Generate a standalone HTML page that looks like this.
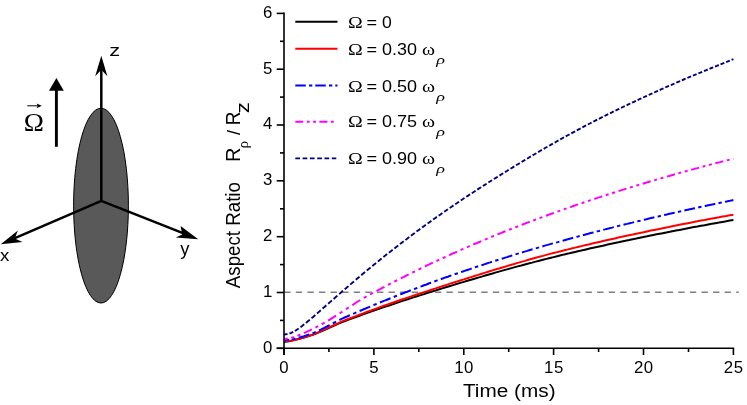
<!DOCTYPE html>
<html><head><meta charset="utf-8"><style>
html,body{margin:0;padding:0;background:#fff;}
svg{display:block;will-change:transform}
text{fill:#000}
.ax line{stroke:#000;stroke-width:1.6}
</style></head><body>
<svg width="747" height="405" viewBox="0 0 747 405">
<rect width="747" height="405" fill="#fff"/>
<!-- left schematic -->
<ellipse cx="101.0" cy="205.6" rx="27.4" ry="97.4" fill="#595959" stroke="#000" stroke-width="1"/>
<g stroke="#000" stroke-width="2.5" fill="none">
<line x1="101.3" y1="200.8" x2="101.3" y2="70"/>
<line x1="101.3" y1="200.8" x2="12" y2="239.4"/>
<line x1="101.3" y1="200.8" x2="188" y2="235.2"/>
</g>
<path d="M101.3,55.7 L107.4,76.3 L101.3,69.8 L95.2,76.3 Z" fill="#000"/>
<path d="M0.7,244.3 L17.9,230.5 L14.8,238.6 L22.4,242.1 Z" fill="#000"/>
<path d="M198.2,239.3 L175.8,237.5 L182.2,234.5 L180.6,226 Z" fill="#000"/>
<line x1="56.4" y1="146.8" x2="56.4" y2="90" stroke="#000" stroke-width="2.9"/>
<path d="M56.4,77.9 L63.8,90.7 L49.0,90.7 Z" fill="#000"/>
<text transform="translate(23.87,130.80) scale(1.112,1)" font-family='"Liberation Serif",serif' font-size="24.45">Ω</text>
<line x1="27.3" y1="105.8" x2="40" y2="105.8" stroke="#000" stroke-width="1"/>
<path d="M41.8,105.8 L36.5,103.4 L37.8,105.8 L36.5,108.2 Z" fill="#000"/>
<text transform="translate(109.33,56.30) scale(1.287,1)" font-family='"Liberation Sans",sans-serif' font-size="16.87">z</text>
<text transform="translate(-0.03,261.30) scale(1.086,1)" font-family='"Liberation Sans",sans-serif' font-size="17.25">x</text>
<text transform="translate(180.15,254.90) scale(0.979,1)" font-family='"Liberation Sans",sans-serif' font-size="18.78">y</text>
<!-- chart -->
<line x1="284.2" x2="738.8" y1="292.3" y2="292.3" stroke="#808080" stroke-width="1.4" stroke-dasharray="6.4 5.19"/>
<path d="M284.0,341.8 L287.6,341.4 L291.2,340.7 L294.8,339.9 L298.4,339.0 L302.0,338.0 L305.6,337.0 L309.2,335.9 L312.8,334.7 L316.4,333.4 L320.0,331.9 L323.5,330.4 L327.1,328.8 L330.7,327.1 L334.3,325.5 L337.9,323.9 L341.5,322.4 L345.1,321.0 L348.7,319.6 L352.3,318.3 L355.9,317.0 L359.5,315.7 L363.1,314.4 L366.7,313.1 L370.3,311.8 L373.9,310.6 L377.5,309.3 L381.1,308.1 L384.7,306.9 L388.3,305.7 L391.9,304.5 L395.5,303.3 L399.0,302.1 L402.6,300.9 L406.2,299.7 L409.8,298.6 L413.4,297.4 L417.0,296.3 L420.6,295.1 L424.2,294.0 L427.8,292.8 L431.4,291.7 L435.0,290.6 L438.6,289.5 L442.2,288.4 L445.8,287.3 L449.4,286.2 L453.0,285.1 L456.6,284.0 L460.2,282.9 L463.8,281.9 L467.4,280.8 L471.0,279.7 L474.5,278.7 L478.1,277.6 L481.7,276.6 L485.3,275.5 L488.9,274.5 L492.5,273.5 L496.1,272.4 L499.7,271.4 L503.3,270.4 L506.9,269.4 L510.5,268.4 L514.1,267.4 L517.7,266.4 L521.3,265.5 L524.9,264.5 L528.5,263.5 L532.1,262.6 L535.7,261.6 L539.3,260.7 L542.9,259.8 L546.4,258.9 L550.0,258.0 L553.6,257.1 L557.2,256.2 L560.8,255.3 L564.4,254.4 L568.0,253.6 L571.6,252.7 L575.2,251.9 L578.8,251.1 L582.4,250.2 L586.0,249.4 L589.6,248.6 L593.2,247.8 L596.8,247.0 L600.4,246.2 L604.0,245.4 L607.6,244.6 L611.2,243.8 L614.8,243.0 L618.4,242.3 L621.9,241.5 L625.5,240.7 L629.1,240.0 L632.7,239.2 L636.3,238.5 L639.9,237.7 L643.5,237.0 L647.1,236.3 L650.7,235.5 L654.3,234.8 L657.9,234.1 L661.5,233.4 L665.1,232.7 L668.7,232.0 L672.3,231.3 L675.9,230.6 L679.5,229.9 L683.1,229.2 L686.7,228.5 L690.3,227.8 L693.9,227.1 L697.4,226.5 L701.0,225.8 L704.6,225.2 L708.2,224.5 L711.8,223.8 L715.4,223.2 L719.0,222.6 L722.6,221.9 L726.2,221.3 L729.8,220.6 L733.4,220.0" fill="none" stroke="#000000" stroke-width="2.0"/>
<path d="M284.0,341.3 L287.6,341.1 L291.2,340.6 L294.8,339.9 L298.4,339.1 L302.0,338.1 L305.6,337.1 L309.2,335.9 L312.8,334.6 L316.4,333.2 L320.0,331.7 L323.5,330.1 L327.1,328.4 L330.7,326.7 L334.3,325.0 L337.9,323.3 L341.5,321.7 L345.1,320.2 L348.7,318.8 L352.3,317.5 L355.9,316.1 L359.5,314.7 L363.1,313.4 L366.7,312.0 L370.3,310.7 L373.9,309.4 L377.5,308.1 L381.1,306.8 L384.7,305.5 L388.3,304.3 L391.9,303.0 L395.5,301.8 L399.0,300.5 L402.6,299.3 L406.2,298.1 L409.8,296.9 L413.4,295.7 L417.0,294.5 L420.6,293.3 L424.2,292.1 L427.8,290.9 L431.4,289.7 L435.0,288.6 L438.6,287.4 L442.2,286.3 L445.8,285.1 L449.4,283.9 L453.0,282.8 L456.6,281.6 L460.2,280.5 L463.8,279.4 L467.4,278.2 L471.0,277.1 L474.5,276.0 L478.1,274.9 L481.7,273.7 L485.3,272.6 L488.9,271.5 L492.5,270.4 L496.1,269.3 L499.7,268.3 L503.3,267.2 L506.9,266.1 L510.5,265.0 L514.1,264.0 L517.7,262.9 L521.3,261.9 L524.9,260.9 L528.5,259.8 L532.1,258.8 L535.7,257.8 L539.3,256.8 L542.9,255.9 L546.4,254.9 L550.0,253.9 L553.6,253.0 L557.2,252.1 L560.8,251.2 L564.4,250.2 L568.0,249.4 L571.6,248.5 L575.2,247.6 L578.8,246.7 L582.4,245.9 L586.0,245.0 L589.6,244.2 L593.2,243.3 L596.8,242.5 L600.4,241.7 L604.0,240.8 L607.6,240.0 L611.2,239.2 L614.8,238.4 L618.4,237.6 L621.9,236.8 L625.5,236.0 L629.1,235.2 L632.7,234.5 L636.3,233.7 L639.9,232.9 L643.5,232.2 L647.1,231.4 L650.7,230.6 L654.3,229.9 L657.9,229.2 L661.5,228.4 L665.1,227.7 L668.7,227.0 L672.3,226.2 L675.9,225.5 L679.5,224.8 L683.1,224.1 L686.7,223.4 L690.3,222.7 L693.9,222.0 L697.4,221.3 L701.0,220.6 L704.6,220.0 L708.2,219.3 L711.8,218.6 L715.4,217.9 L719.0,217.3 L722.6,216.6 L726.2,216.0 L729.8,215.3 L733.4,214.7" fill="none" stroke="#ff0000" stroke-width="2.0"/>
<path d="M284.0,340.3 L285.7,340.2 L287.3,340.1 L289.0,339.8 M292.2,339.2 L293.9,338.9 L295.5,338.5 M298.7,337.7 L300.5,337.2 L302.2,336.7 L304.0,336.2 L305.8,335.6 L307.5,335.0 L309.3,334.4 M312.5,333.3 L314.1,332.6 L315.8,331.9 M319.0,330.5 L320.8,329.6 L322.5,328.7 L324.3,327.9 L326.1,326.9 L327.8,326.0 L329.6,325.1 M332.8,323.4 L334.5,322.5 L336.1,321.6 M339.3,320.0 L341.1,319.2 L342.8,318.3 L344.6,317.5 L346.4,316.8 L348.1,316.0 L349.9,315.2 M353.1,313.8 L354.8,313.1 L356.4,312.4 M359.6,311.0 L361.4,310.3 L363.1,309.5 L364.9,308.8 L366.7,308.0 L368.4,307.3 L370.2,306.6 M373.4,305.2 L375.1,304.5 L376.7,303.9 M379.9,302.5 L381.7,301.8 L383.4,301.1 L385.2,300.4 L387.0,299.7 L388.7,299.0 L390.5,298.3 M393.7,297.0 L395.4,296.3 L397.0,295.7 M400.2,294.4 L402.0,293.7 L403.7,293.0 L405.5,292.3 L407.3,291.7 L409.0,291.0 L410.8,290.3 M414.0,289.1 L415.7,288.5 L417.3,287.8 M420.5,286.6 L422.3,286.0 L424.0,285.3 L425.8,284.7 L427.6,284.0 L429.3,283.3 L431.1,282.7 M434.3,281.5 L436.0,280.9 L437.6,280.3 M440.8,279.2 L442.6,278.5 L444.3,277.9 L446.1,277.3 L447.9,276.7 L449.6,276.0 L451.4,275.4 M454.6,274.3 L456.3,273.7 L457.9,273.2 M461.1,272.1 L462.9,271.5 L464.6,270.9 L466.4,270.3 L468.2,269.7 L469.9,269.1 L471.7,268.5 M474.9,267.4 L476.6,266.8 L478.2,266.3 M481.4,265.2 L483.2,264.7 L484.9,264.1 L486.7,263.5 L488.5,262.9 L490.2,262.4 L492.0,261.8 M495.2,260.8 L496.9,260.2 L498.5,259.7 M501.7,258.7 L503.5,258.2 L505.2,257.6 L507.0,257.1 L508.8,256.5 L510.5,256.0 L512.3,255.4 M515.5,254.4 L517.2,253.9 L518.8,253.4 M522.0,252.5 L523.8,251.9 L525.5,251.4 L527.3,250.9 L529.1,250.3 L530.8,249.8 L532.6,249.3 M535.8,248.4 L537.5,247.9 L539.1,247.4 M542.3,246.5 L544.1,245.9 L545.8,245.4 L547.6,244.9 L549.4,244.4 L551.1,243.9 L552.9,243.4 M556.1,242.5 L557.8,242.1 L559.4,241.6 M562.6,240.7 L564.4,240.2 L566.1,239.7 L567.9,239.2 L569.7,238.7 L571.4,238.3 L573.2,237.8 M576.4,236.9 L578.1,236.5 L579.7,236.0 M582.9,235.2 L584.7,234.7 L586.4,234.2 L588.2,233.8 L590.0,233.3 L591.7,232.8 L593.5,232.4 M596.7,231.5 L598.4,231.1 L600.0,230.7 M603.2,229.8 L605.0,229.4 L606.7,228.9 L608.5,228.5 L610.3,228.0 L612.0,227.6 L613.8,227.1 M617.0,226.3 L618.7,225.9 L620.3,225.5 M623.5,224.7 L625.3,224.3 L627.0,223.9 L628.8,223.4 L630.6,223.0 L632.3,222.6 L634.1,222.1 M637.3,221.4 L639.0,221.0 L640.6,220.6 M643.8,219.8 L645.6,219.4 L647.3,219.0 L649.1,218.5 L650.9,218.1 L652.6,217.7 L654.4,217.3 M657.6,216.6 L659.3,216.2 L660.9,215.8 M664.1,215.1 L665.9,214.7 L667.6,214.3 L669.4,213.8 L671.2,213.4 L672.9,213.0 L674.7,212.7 M677.9,211.9 L679.6,211.6 L681.2,211.2 M684.4,210.5 L686.2,210.1 L687.9,209.7 L689.7,209.3 L691.5,208.9 L693.2,208.5 L695.0,208.2 M698.2,207.5 L699.9,207.1 L701.5,206.8 M704.7,206.1 L706.5,205.7 L708.2,205.3 L710.0,204.9 L711.8,204.6 L713.5,204.2 L715.3,203.8 M718.5,203.2 L720.2,202.8 L721.8,202.5 M725.0,201.8 L726.7,201.5 L728.4,201.1 L730.0,200.8 L731.7,200.4 L733.4,200.1" fill="none" stroke="#0000ff" stroke-width="2.0"/>
<path d="M284.0,338.9 L285.9,338.8 L287.7,338.6 M291.2,337.9 L292.6,337.5 L294.0,337.0 M297.5,335.8 L298.9,335.2 L300.4,334.6 M303.9,333.1 L305.5,332.4 L307.1,331.6 L308.7,330.9 L310.3,330.1 L311.9,329.3 M315.4,327.6 L316.8,326.9 L318.2,326.2 M321.7,324.3 L323.1,323.5 L324.6,322.7 M328.1,320.6 L329.7,319.7 L331.3,318.7 L332.9,317.7 L334.5,316.7 L336.1,315.7 M339.6,313.4 L341.0,312.5 L342.4,311.6 M345.9,309.3 L347.3,308.3 L348.8,307.4 M352.3,305.1 L353.9,304.1 L355.5,303.0 L357.1,302.0 L358.7,301.0 L360.3,300.1 M363.8,298.0 L365.2,297.2 L366.6,296.4 M370.1,294.5 L371.5,293.7 L373.0,293.0 M376.5,291.1 L378.1,290.2 L379.7,289.4 L381.3,288.5 L382.9,287.7 L384.5,286.8 M388.0,285.0 L389.4,284.2 L390.8,283.5 M394.3,281.7 L395.7,281.0 L397.2,280.2 M400.7,278.4 L402.3,277.6 L403.9,276.8 L405.5,276.0 L407.1,275.2 L408.7,274.4 M412.2,272.7 L413.6,272.0 L415.0,271.3 M418.5,269.6 L419.9,268.9 L421.4,268.2 M424.9,266.5 L426.5,265.7 L428.1,264.9 L429.7,264.2 L431.3,263.4 L432.9,262.7 M436.4,261.0 L437.8,260.4 L439.2,259.7 M442.7,258.1 L444.1,257.5 L445.6,256.8 M449.1,255.2 L450.7,254.5 L452.3,253.7 L453.9,253.0 L455.5,252.3 L457.1,251.6 M460.6,250.1 L462.0,249.4 L463.4,248.8 M466.9,247.3 L468.3,246.7 L469.8,246.0 M473.3,244.5 L474.9,243.8 L476.5,243.2 L478.1,242.5 L479.7,241.8 L481.3,241.1 M484.8,239.7 L486.2,239.1 L487.6,238.5 M491.1,237.0 L492.5,236.4 L494.0,235.9 M497.5,234.4 L499.1,233.8 L500.7,233.1 L502.3,232.5 L503.9,231.8 L505.5,231.2 M509.0,229.8 L510.4,229.3 L511.8,228.7 M515.3,227.3 L516.8,226.8 L518.2,226.2 M521.7,224.9 L523.3,224.2 L524.9,223.6 L526.5,223.0 L528.1,222.4 L529.7,221.8 M533.2,220.5 L534.6,220.0 L536.0,219.4 M539.5,218.1 L540.9,217.6 L542.4,217.1 M545.9,215.8 L547.5,215.2 L549.1,214.6 L550.7,214.0 L552.3,213.5 L553.9,212.9 M557.4,211.6 L558.8,211.1 L560.2,210.6 M563.7,209.4 L565.1,208.9 L566.6,208.4 M570.1,207.2 L571.7,206.6 L573.3,206.0 L574.9,205.5 L576.5,204.9 L578.1,204.4 M581.6,203.2 L583.0,202.7 L584.4,202.3 M587.9,201.1 L589.3,200.6 L590.8,200.1 M594.3,199.0 L595.9,198.4 L597.5,197.9 L599.1,197.4 L600.7,196.9 L602.3,196.3 M605.8,195.2 L607.2,194.7 L608.6,194.3 M612.1,193.2 L613.5,192.7 L615.0,192.2 M618.5,191.1 L620.1,190.6 L621.7,190.1 L623.3,189.6 L624.9,189.1 L626.5,188.6 M630.0,187.6 L631.4,187.1 L632.8,186.7 M636.3,185.6 L637.7,185.2 L639.2,184.8 M642.7,183.7 L644.3,183.2 L645.9,182.7 L647.5,182.3 L649.1,181.8 L650.7,181.3 M654.2,180.3 L655.6,179.9 L657.0,179.5 M660.5,178.4 L661.9,178.0 L663.4,177.6 M666.9,176.6 L668.5,176.1 L670.1,175.7 L671.7,175.2 L673.3,174.8 L674.9,174.3 M678.4,173.3 L679.8,172.9 L681.2,172.5 M684.7,171.6 L686.1,171.2 L687.6,170.8 M691.1,169.8 L692.7,169.4 L694.3,168.9 L695.9,168.5 L697.5,168.1 L699.1,167.6 M702.6,166.7 L704.0,166.3 L705.4,165.9 M708.9,165.0 L710.3,164.6 L711.8,164.2 M715.3,163.3 L716.9,162.9 L718.5,162.5 L720.1,162.1 L721.7,161.6 L723.3,161.2 M726.8,160.3 L728.2,160.0 L729.6,159.6 M733.1,158.7 L733.4,158.6" fill="none" stroke="#ff00ff" stroke-width="2.0"/>
<path d="M284.0,334.5 L285.8,334.3 L287.6,334.1 M289.4,333.5 L291.3,332.9 L293.2,331.9 M295.0,331.0 L296.8,329.8 L298.7,328.5 M300.5,327.2 L302.4,325.8 L304.2,324.3 M306.0,322.9 L307.9,321.3 L309.8,319.8 M311.5,318.3 L313.4,316.7 L315.3,315.0 M317.1,313.5 L318.9,311.9 L320.8,310.2 M322.6,308.6 L324.5,307.0 L326.3,305.3 M328.1,303.8 L330.0,302.1 L331.9,300.5 M333.6,298.9 L335.5,297.3 L337.4,295.6 M339.2,294.1 L341.0,292.5 L342.9,290.8 M344.7,289.3 L346.6,287.7 L348.4,286.1 M350.2,284.6 L352.1,282.9 L354.0,281.4 M355.8,279.8 L357.6,278.3 L359.5,276.7 M361.3,275.2 L363.2,273.6 L365.0,272.1 M366.8,270.6 L368.7,269.0 L370.6,267.5 M372.3,266.0 L374.2,264.5 L376.1,263.0 M377.9,261.6 L379.7,260.0 L381.6,258.5 M383.4,257.1 L385.3,255.6 L387.1,254.1 M388.9,252.7 L390.8,251.3 L392.7,249.8 M394.4,248.4 L396.3,246.9 L398.2,245.5 M400.0,244.1 L401.8,242.7 L403.7,241.3 M405.5,239.9 L407.4,238.5 L409.2,237.1 M411.0,235.7 L412.9,234.3 L414.8,232.9 M416.5,231.6 L418.4,230.2 L420.3,228.9 M422.1,227.6 L423.9,226.2 L425.8,224.8 M427.6,223.5 L429.5,222.2 L431.4,220.9 M433.1,219.6 L435.0,218.2 L436.9,216.9 M438.7,215.7 L440.5,214.4 L442.4,213.0 M444.2,211.8 L446.1,210.5 L447.9,209.2 M449.7,208.0 L451.6,206.7 L453.5,205.4 M455.2,204.2 L457.1,203.0 L459.0,201.7 M460.8,200.5 L462.6,199.2 L464.5,198.0 M466.3,196.8 L468.2,195.6 L470.0,194.3 M471.8,193.2 L473.7,192.0 L475.6,190.7 M477.3,189.6 L479.2,188.4 L481.1,187.2 M482.9,186.0 L484.7,184.9 L486.6,183.7 M488.4,182.5 L490.3,181.3 L492.1,180.2 M493.9,179.0 L495.8,177.9 L497.7,176.7 M499.5,175.6 L501.3,174.4 L503.2,173.2 M505.0,172.1 L506.9,171.0 L508.7,169.8 M510.5,168.7 L512.4,167.6 L514.3,166.4 M516.0,165.3 L517.9,164.2 L519.8,163.1 M521.6,162.0 L523.4,160.9 L525.3,159.7 M527.1,158.7 L529.0,157.5 L530.8,156.4 M532.6,155.4 L534.5,154.3 L536.4,153.2 M538.1,152.1 L540.0,151.0 L541.9,149.9 M543.7,148.9 L545.5,147.8 L547.4,146.7 M549.2,145.7 L551.1,144.6 L552.9,143.6 M554.7,142.6 L556.6,141.5 L558.5,140.4 M560.2,139.4 L562.1,138.4 L564.0,137.3 M565.8,136.4 L567.7,135.3 L569.5,134.3 M571.3,133.3 L573.2,132.3 L575.1,131.3 M576.8,130.3 L578.7,129.3 L580.6,128.3 M582.4,127.4 L584.2,126.4 L586.1,125.4 M587.9,124.5 L589.8,123.5 L591.6,122.5 M593.4,121.6 L595.3,120.6 L597.2,119.7 M598.9,118.8 L600.8,117.8 L602.7,116.9 M604.5,116.0 L606.3,115.1 L608.2,114.1 M610.0,113.3 L611.9,112.4 L613.7,111.4 M615.5,110.6 L617.4,109.7 L619.3,108.8 M621.0,107.9 L622.9,107.0 L624.8,106.1 M626.6,105.3 L628.4,104.4 L630.3,103.5 M632.1,102.7 L634.0,101.8 L635.9,100.9 M637.6,100.1 L639.5,99.2 L641.4,98.3 M643.2,97.5 L645.0,96.7 L646.9,95.8 M648.7,95.0 L650.6,94.1 L652.4,93.3 M654.2,92.5 L656.1,91.6 L658.0,90.8 M659.7,90.0 L661.6,89.2 L663.5,88.3 M665.3,87.5 L667.1,86.7 L669.0,85.9 M670.8,85.1 L672.7,84.3 L674.5,83.5 M676.3,82.7 L678.2,81.9 L680.1,81.1 M681.8,80.3 L683.7,79.5 L685.6,78.7 M687.4,78.0 L689.2,77.2 L691.1,76.4 M692.9,75.6 L694.8,74.9 L696.6,74.1 M698.4,73.3 L700.3,72.6 L702.2,71.8 M704.0,71.0 L705.8,70.3 L707.7,69.5 M709.5,68.8 L711.4,68.0 L713.2,67.3 M715.0,66.5 L716.9,65.8 L718.8,65.0 M720.5,64.3 L722.4,63.6 L724.3,62.8 M726.1,62.1 L727.9,61.4 L729.8,60.6 M731.6,59.9 L733.4,59.2" fill="none" stroke="#000080" stroke-width="1.9"/>

<g class="ax">
<line x1="284.0" x2="284.0" y1="12.6" y2="355"/>
<line x1="276.7" x2="734.1999999999999" y1="348.3" y2="348.3"/>
<line x1="276.7" x2="284.0" y1="348.3" y2="348.3"/><line x1="280" x2="284.0" y1="320.4" y2="320.4"/><line x1="276.7" x2="284.0" y1="292.5" y2="292.5"/><line x1="280" x2="284.0" y1="264.6" y2="264.6"/><line x1="276.7" x2="284.0" y1="236.7" y2="236.7"/><line x1="280" x2="284.0" y1="208.8" y2="208.8"/><line x1="276.7" x2="284.0" y1="180.8" y2="180.8"/><line x1="280" x2="284.0" y1="152.9" y2="152.9"/><line x1="276.7" x2="284.0" y1="125.0" y2="125.0"/><line x1="280" x2="284.0" y1="97.1" y2="97.1"/><line x1="276.7" x2="284.0" y1="69.2" y2="69.2"/><line x1="280" x2="284.0" y1="41.3" y2="41.3"/><line x1="276.7" x2="284.0" y1="13.4" y2="13.4"/><line x1="284.0" x2="284.0" y1="348.3" y2="355"/><line x1="328.9" x2="328.9" y1="348.3" y2="352"/><line x1="373.9" x2="373.9" y1="348.3" y2="355"/><line x1="418.8" x2="418.8" y1="348.3" y2="352"/><line x1="463.8" x2="463.8" y1="348.3" y2="355"/><line x1="508.7" x2="508.7" y1="348.3" y2="352"/><line x1="553.6" x2="553.6" y1="348.3" y2="355"/><line x1="598.6" x2="598.6" y1="348.3" y2="352"/><line x1="643.5" x2="643.5" y1="348.3" y2="355"/><line x1="688.5" x2="688.5" y1="348.3" y2="352"/><line x1="733.4" x2="733.4" y1="348.3" y2="355"/>
</g>
<text transform="translate(262.96,352.75) scale(1.050,1)" font-family='"Liberation Sans",sans-serif' font-size="16.00">0</text><text transform="translate(262.96,296.93) scale(1.050,1)" font-family='"Liberation Sans",sans-serif' font-size="16.00">1</text><text transform="translate(262.96,241.12) scale(1.050,1)" font-family='"Liberation Sans",sans-serif' font-size="16.00">2</text><text transform="translate(262.96,185.30) scale(1.050,1)" font-family='"Liberation Sans",sans-serif' font-size="16.00">3</text><text transform="translate(262.96,129.48) scale(1.050,1)" font-family='"Liberation Sans",sans-serif' font-size="16.00">4</text><text transform="translate(262.96,73.67) scale(1.050,1)" font-family='"Liberation Sans",sans-serif' font-size="16.00">5</text><text transform="translate(262.96,17.85) scale(1.050,1)" font-family='"Liberation Sans",sans-serif' font-size="16.00">6</text>
<text transform="translate(279.33,372.70) scale(1.050,1)" font-family='"Liberation Sans",sans-serif' font-size="16.00" letter-spacing="0.5">0</text><text transform="translate(369.21,372.70) scale(1.050,1)" font-family='"Liberation Sans",sans-serif' font-size="16.00" letter-spacing="0.5">5</text><text transform="translate(454.17,372.70) scale(1.050,1)" font-family='"Liberation Sans",sans-serif' font-size="16.00" letter-spacing="0.5">10</text><text transform="translate(544.05,372.70) scale(1.050,1)" font-family='"Liberation Sans",sans-serif' font-size="16.00" letter-spacing="0.5">15</text><text transform="translate(633.93,372.70) scale(1.050,1)" font-family='"Liberation Sans",sans-serif' font-size="16.00" letter-spacing="0.5">20</text><text transform="translate(723.81,372.70) scale(1.050,1)" font-family='"Liberation Sans",sans-serif' font-size="16.00" letter-spacing="0.5">25</text>
<line x1="295.3" x2="337.5" y1="21.8" y2="21.8" stroke="#000000" stroke-width="2.0"/>
<text transform="translate(348.06,28.30) scale(1.163,1)" font-family='"Liberation Serif",serif' font-size="17.06">Ω</text><text transform="translate(366.59,28.30) scale(1.120,1)" font-family='"Liberation Sans",sans-serif' font-size="16.20">=</text><text transform="translate(382.00,28.30) scale(1.086,1)" font-family='"Liberation Sans",sans-serif' font-size="16.20">0</text>
<line x1="295.3" x2="337.5" y1="48.7" y2="48.7" stroke="#ff0000" stroke-width="2.0"/>
<text transform="translate(348.06,55.30) scale(1.163,1)" font-family='"Liberation Serif",serif' font-size="17.06">Ω</text><text transform="translate(366.59,55.30) scale(1.120,1)" font-family='"Liberation Sans",sans-serif' font-size="16.20">=</text><text transform="translate(381.98,55.30) scale(1.111,1)" font-family='"Liberation Sans",sans-serif' font-size="16.20">0.30</text><text transform="translate(422.01,55.28) scale(1.182,1)" font-family='"Liberation Serif",serif' font-size="16.77">ω</text><text transform="translate(436.15,64.46) scale(1.404,1)" font-family='"Liberation Serif",serif' font-size="12.89" font-style="italic">ρ</text>
<line x1="295.3" x2="337.5" y1="85.6" y2="85.6" stroke="#0000ff" stroke-width="2.0" stroke-dasharray="10.5 3.2 3.3 3"/>
<text transform="translate(348.06,91.80) scale(1.163,1)" font-family='"Liberation Serif",serif' font-size="17.06">Ω</text><text transform="translate(366.59,91.80) scale(1.120,1)" font-family='"Liberation Sans",sans-serif' font-size="16.20">=</text><text transform="translate(381.98,91.80) scale(1.111,1)" font-family='"Liberation Sans",sans-serif' font-size="16.20">0.50</text><text transform="translate(422.01,91.78) scale(1.182,1)" font-family='"Liberation Serif",serif' font-size="16.77">ω</text><text transform="translate(436.15,100.96) scale(1.404,1)" font-family='"Liberation Serif",serif' font-size="12.89" font-style="italic">ρ</text>
<line x1="295.3" x2="334.3" y1="121.8" y2="121.8" stroke="#ff00ff" stroke-width="2.0" stroke-dasharray="8 3.5 2.8 3.5 2.8 3.5"/>
<text transform="translate(348.06,127.30) scale(1.163,1)" font-family='"Liberation Serif",serif' font-size="17.06">Ω</text><text transform="translate(366.59,127.30) scale(1.120,1)" font-family='"Liberation Sans",sans-serif' font-size="16.20">=</text><text transform="translate(381.98,127.30) scale(1.112,1)" font-family='"Liberation Sans",sans-serif' font-size="16.20">0.75</text><text transform="translate(422.01,127.28) scale(1.182,1)" font-family='"Liberation Serif",serif' font-size="16.77">ω</text><text transform="translate(436.15,136.46) scale(1.404,1)" font-family='"Liberation Serif",serif' font-size="12.89" font-style="italic">ρ</text>
<line x1="295.3" x2="336.3" y1="158.4" y2="158.4" stroke="#000080" stroke-width="1.9" stroke-dasharray="4.7 2.6"/>
<text transform="translate(348.06,164.20) scale(1.163,1)" font-family='"Liberation Serif",serif' font-size="17.06">Ω</text><text transform="translate(366.59,164.20) scale(1.120,1)" font-family='"Liberation Sans",sans-serif' font-size="16.20">=</text><text transform="translate(381.98,164.20) scale(1.111,1)" font-family='"Liberation Sans",sans-serif' font-size="16.20">0.90</text><text transform="translate(422.01,164.18) scale(1.182,1)" font-family='"Liberation Serif",serif' font-size="16.77">ω</text><text transform="translate(436.15,173.36) scale(1.404,1)" font-family='"Liberation Serif",serif' font-size="12.89" font-style="italic">ρ</text>

<text transform="translate(462.93,397.20) scale(1.135,1)" font-family='"Liberation Sans",sans-serif' font-size="18.30">Time (ms)</text>
<text transform="translate(240.40,288.15) rotate(-90) scale(1.000,1.046)" font-family='"Liberation Sans",sans-serif' font-size="18.72">Aspect Ratio</text><text transform="translate(240.40,161.94) rotate(-90) scale(1.000,1.015)" font-family='"Liberation Sans",sans-serif' font-size="19.92">R</text><text transform="translate(240.40,135.00) rotate(-90) scale(1.000,0.988)" font-family='"Liberation Sans",sans-serif' font-size="18.02">/</text><text transform="translate(240.40,125.27) rotate(-90) scale(1.000,1.060)" font-family='"Liberation Sans",sans-serif' font-size="19.07">R</text><text transform="translate(249.30,113.29) rotate(-90) scale(1.000,0.811)" font-family='"Liberation Sans",sans-serif' font-size="22.20">z</text><text transform="translate(248.03,148.49) rotate(-90) scale(1,1.006)" font-family='"Liberation Serif",serif' font-size="15.29">ρ</text>
</svg>
</body></html>
